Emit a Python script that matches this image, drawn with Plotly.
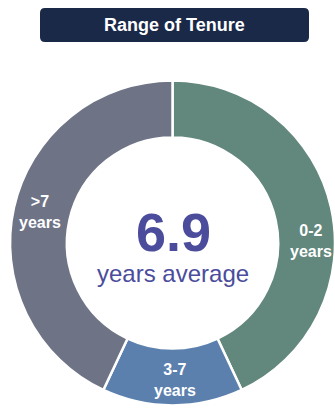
import plotly.graph_objects as go

categories = ["0-2 years", "3-7 years", ">7 years"]
shares = [43, 14, 43]
colors = ["#62877D", "#5B80AE", "#6E7486"]
title_text = "Range of Tenure"
average_value = "6.9"
average_label = "years average"

W, H = 335, 410
FONT = "Liberation Sans, Arial, sans-serif"

def px(x):
    return x / W

def py(y):
    return 1 - y / H

fig = go.Figure()
fig.add_trace(go.Pie(
    labels=categories,
    values=shares,
    hole=0.65,
    sort=False,
    direction="clockwise",
    rotation=0,
    marker=dict(colors=colors, line=dict(color="white", width=2.5)),
    textinfo="none",
    hoverinfo="label+percent",
    showlegend=False,
    domain=dict(x=[0.03, 1.0], y=[0.011, 0.8037]),
))

# label positions (pixels) for each slice
label_pos = {"0-2 years": (311, 241), "3-7 years": (175, 380), ">7 years": (40, 212)}
annotations = []
for cat in categories:
    x, y = label_pos[cat]
    annotations.append(dict(
        x=px(x), y=py(y), xref="paper", yref="paper",
        text=cat.replace(" ", "<br>"), showarrow=False,
        font=dict(family=FONT, size=16, color="white", weight="bold"),
        xanchor="center", yanchor="middle", align="center",
    ))

annotations.append(dict(
    x=px(173), y=py(232), xref="paper", yref="paper",
    text=f"<b>{average_value}</b>", showarrow=False,
    font=dict(family=FONT, size=54, color="#4B4C9C"),
    xanchor="center", yanchor="middle",
))
annotations.append(dict(
    x=px(173), y=py(273), xref="paper", yref="paper",
    text=average_label, showarrow=False,
    font=dict(family=FONT, size=24, color="#4B4C9C"),
    xanchor="center", yanchor="middle",
))
annotations.append(dict(
    x=px(174.5), y=py(25), xref="paper", yref="paper",
    text=f"<b>{title_text}</b>", showarrow=False,
    font=dict(family=FONT, size=18, color="white"),
    xanchor="center", yanchor="middle",
))

# rounded title box
x0, x1, y0, y1, r = 40, 309, 8, 42, 5
path = (f"M {px(x0+r)},{py(y0)} L {px(x1-r)},{py(y0)} "
        f"Q {px(x1)},{py(y0)} {px(x1)},{py(y0+r)} "
        f"L {px(x1)},{py(y1-r)} Q {px(x1)},{py(y1)} {px(x1-r)},{py(y1)} "
        f"L {px(x0+r)},{py(y1)} Q {px(x0)},{py(y1)} {px(x0)},{py(y1-r)} "
        f"L {px(x0)},{py(y0+r)} Q {px(x0)},{py(y0)} {px(x0+r)},{py(y0)} Z")

fig.update_layout(
    width=W, height=H,
    margin=dict(l=0, r=0, t=0, b=0),
    paper_bgcolor="white", plot_bgcolor="white",
    annotations=annotations,
    shapes=[dict(type="path", path=path, xref="paper", yref="paper",
                 fillcolor="#1B2949", line=dict(width=0), layer="below")],
)

fig.write_html("out.html")
